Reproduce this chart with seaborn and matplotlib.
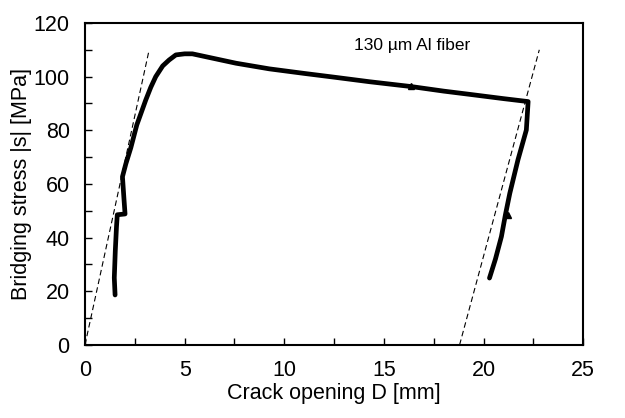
import pandas as pd
import matplotlib
matplotlib.use("Agg")
import matplotlib.pyplot as plt
from matplotlib.ticker import MultipleLocator
import seaborn as sns

opening = [1.51, 1.47, 1.52, 1.58, 1.62, 2.01, 1.95, 1.88, 2.05, 2.30, 2.60, 3.05, 3.30,
           3.55, 3.90, 4.22, 4.56, 5.00, 5.39, 6.39, 7.58, 9.25, 11.0, 12.5, 14.28,
           16.37, 18.0, 19.3, 21.0, 22.24, 22.15, 21.73, 21.32, 21.10, 20.90, 20.60, 20.30]
stress = [18.6, 25.0, 35.0, 44.0, 48.5, 48.8, 55.0, 62.7, 67.5, 73.5, 82.0, 91.3, 96.0,
          100.0, 104.0, 106.2, 108.1, 108.5, 108.5, 106.9, 105.0, 102.9, 101.2, 99.8, 98.1,
          96.3, 94.6, 93.4, 91.8, 90.7, 80.1, 69.0, 56.5, 48.5, 40.4, 32.0, 24.9]

# small marks on the curve
mark_x = [16.37, 21.25]
mark_y = [96.6, 48.5]

# dashed stiffness lines
load_x = [0.0, 3.22]
load_y = [0.0, 110.0]
unload_x = [18.8, 22.8]
unload_y = [0.0, 110.0]

df = pd.DataFrame({"D": opening, "s": stress})

sns.set_theme(style="ticks")
plt.rcParams["font.family"] = ["Liberation Sans", "DejaVu Sans"]
plt.rcParams["text.color"] = "black"
plt.rcParams["axes.labelcolor"] = "black"
plt.rcParams["xtick.color"] = "black"
plt.rcParams["ytick.color"] = "black"

fig, ax = plt.subplots(figsize=(6.25, 4.18), dpi=100)
fig.subplots_adjust(left=0.136, right=0.933, top=0.945, bottom=0.175)

sns.lineplot(data=df, x="D", y="s", sort=False, color="black", linewidth=3.4,
             ax=ax, solid_capstyle="round", solid_joinstyle="round")
ax.plot(mark_x, mark_y, linestyle="none", marker="^", color="black", markersize=5)
ax.plot(load_x, load_y, color="black", linestyle="--", linewidth=0.8, dashes=(5, 3))
ax.plot(unload_x, unload_y, color="black", linestyle="--", linewidth=0.8, dashes=(5, 3))

ax.text(16.4, 111.5, "130 µm Al fiber", fontsize=12.5, ha="center", va="center")

ax.set_xlim(0, 25)
ax.set_ylim(0, 120)
ax.xaxis.set_major_locator(MultipleLocator(5))
ax.xaxis.set_minor_locator(MultipleLocator(2.5))
ax.yaxis.set_major_locator(MultipleLocator(20))
ax.yaxis.set_minor_locator(MultipleLocator(10))
ax.tick_params(which="both", direction="in", length=5, width=1, color="black",
               labelcolor="black", labelsize=15.5, pad=11)

for sp in ax.spines.values():
    sp.set_color("black")
    sp.set_linewidth(1.5)

ax.set_xlabel("Crack opening D [mm]", fontsize=15.5, labelpad=1)
ax.set_ylabel("Bridging stress |s| [MPa]", fontsize=15.5, labelpad=1)

fig.savefig("out.png", dpi=100)
